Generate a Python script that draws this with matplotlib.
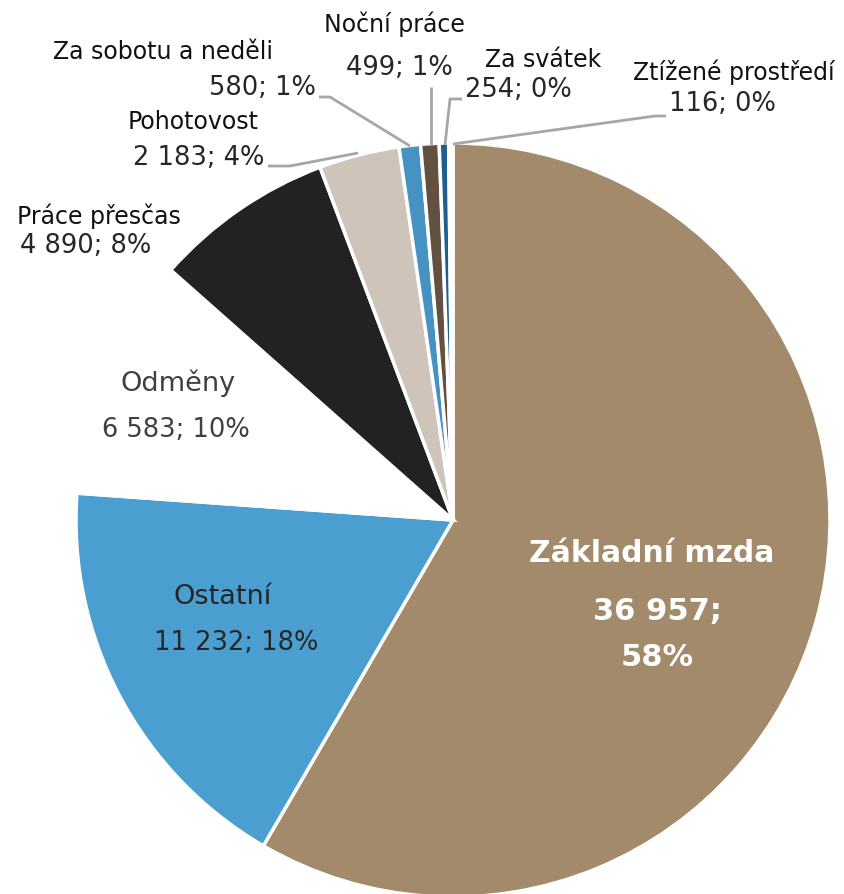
import matplotlib.pyplot as plt
import numpy as np

plt.rcParams['font.family'] = ['DejaVu Sans']

# data
categories = ['Základní mzda', 'Ostatní', 'Odměny', 'Práce přesčas', 'Pohotovost',
              'Za sobotu a neděli', 'Noční práce', 'Za svátek', 'Ztížené prostředí']
values = [36957, 11232, 6583, 4890, 2183, 580, 499, 254, 116]
value_labels = ['36 957', '11 232', '6 583', '4 890', '2 183', '580', '499', '254', '116']
pct_labels = ['58%', '18%', '10%', '8%', '4%', '1%', '1%', '0%', '0%']
colors = ['#A38A6A', '#4A9FD0', '#FFFFFF', '#222222', '#CEC4B9',
          '#4592C3', '#625140', '#1E5F8E', '#FFFFFF']

W, H = 845, 894
cx, cy, R = 453, 520, 377   # pie centre / radius in pixels

fig = plt.figure(figsize=(W / 100, H / 100), dpi=100)
ax = fig.add_axes([0, 0, 1, 1])

ax.pie(values, colors=colors, startangle=90, counterclock=False, radius=1,
       wedgeprops=dict(edgecolor='white', linewidth=2.5))

# pie() resets the limits, so set them afterwards
ax.set_xlim(-cx / R, (W - cx) / R)
ax.set_ylim(-(H - cy) / R, cy / R)
ax.set_aspect('equal')
ax.axis('off')


def px(x, y):
    return ((x - cx) / R, (cy - y) / R)


def lab(x, y, s, size=18.5, color='#262626', weight='normal'):
    ax.text(*px(x, y), s, ha='center', va='center', fontsize=size, color=color,
            fontweight=weight)


def leader(points):
    xs, ys = zip(*[px(x, y) for x, y in points])
    ax.plot(xs, ys, color='#A6A6A6', lw=2, solid_capstyle='butt')


# big slice
lab(652, 553, categories[0], size=21.5, color='white', weight='bold')
lab(657, 612, value_labels[0] + ';', size=22, color='white', weight='bold')
lab(657, 658, pct_labels[0], size=22, color='white', weight='bold')

lab(223, 597, categories[1], size=19.5)
lab(236, 643, f'{value_labels[1]}; {pct_labels[1]}')

lab(178, 383, categories[2], size=19.5, color='#404040')
lab(176, 430, f'{value_labels[2]}; {pct_labels[2]}', color='#404040')

lab(99, 216, categories[3], size=17, color='#111111')
lab(86, 246, f'{value_labels[3]}; {pct_labels[3]}')

lab(193, 122, categories[4], size=17, color='#111111')
lab(199, 158, f'{value_labels[4]}; {pct_labels[4]}')

lab(163, 52, categories[5], size=17, color='#111111')
lab(262, 88, f'{value_labels[5]}; {pct_labels[5]}')

lab(394, 24, categories[6], size=17, color='#111111')
lab(399, 68, f'{value_labels[6]}; {pct_labels[6]}')

lab(543, 60, categories[7], size=17, color='#111111')
lab(518, 90, f'{value_labels[7]}; {pct_labels[7]}')

lab(734, 72, categories[8], size=17, color='#111111')
lab(722, 104, f'{value_labels[8]}; {pct_labels[8]}')

# leader lines
leader([(268, 166), (290, 166), (358, 153)])
leader([(319, 97), (330, 97), (410, 146)])
leader([(431, 87), (431, 145)])
leader([(462, 99), (450, 99), (445, 145)])
leader([(666, 116), (655, 116), (453, 144)])

fig.savefig('out.png', dpi=100)
